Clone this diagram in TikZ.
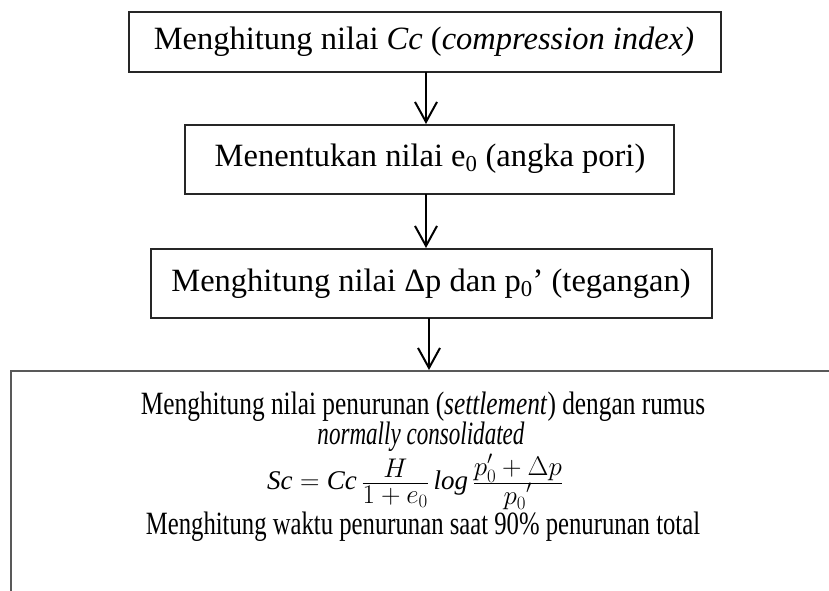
\RequirePackage{fix-cm}
\documentclass[tikz,border=0pt]{standalone}
\usepackage{fontspec}
\setmainfont{Liberation Serif}
\usetikzlibrary{arrows.meta}
\newcommand{\tightfrac}[2]{{\textstyle\frac{\displaystyle #1\rule[-5pt]{0pt}{5pt}}{\displaystyle \rule{0pt}{20.5pt}#2}}}
\begin{document}
\begin{tikzpicture}[x=1pt,y=-1pt,
  box/.style={draw=black!85,line width=1.1pt},
  txt/.style={inner sep=0pt,font=\fontsize{32.5}{36}\selectfont},
  btxt/.style={inner sep=0pt,font=\fontsize{32.5}{36}\selectfont},
  flow/.style={line width=2pt,-{Straight Barb[length=20pt,width=22pt,line width=2pt]}}]
\useasboundingbox (0,0) rectangle (829,590);
\begin{scope}
\clip (0,0) rectangle (829,590);
% boxes
\draw[box] (129,12) rectangle (721,72);
\node[txt] (t1) at (424,42) {Menghitung nilai \textit{Cc} (\textit{compression index)}};
\draw[box] (185,125) rectangle (674,194);
\node[txt] (t2) at (430,159) {Menentukan nilai e\textsubscript{0} (angka pori)};
\draw[box] (151,249) rectangle (712,318);
\node[txt] (t3) at (431,284) {Menghitung nilai Δp dan p\textsubscript{0}’ (tegangan)};
\draw[box,draw=black!65] (11,371) rectangle (840,600);
\node[btxt] (l1) at (423,407) {\scalebox{0.78}[1]{Menghitung nilai penurunan (\textit{settlement}) dengan rumus}};
\node[btxt] (l2) at (421,437) {\scalebox{0.71}[1]{\textit{normally consolidated}}};
\node[inner sep=0pt,font=\fontsize{27}{30}\selectfont] (l3) at (415,482) {$\mathit{Sc} = \mathit{Cc}\,\tightfrac{H}{1+e_0}\,\mathit{log}\,\tightfrac{p_0'+\Delta p}{{p_0}'}$};
\node[btxt] (l4) at (423,527) {\scalebox{0.76}[1]{Menghitung waktu penurunan saat 90\% penurunan total}};
% named anchors for arrows
\coordinate (a1s) at (426,72);
\coordinate (a1e) at (426,124);
\coordinate (a2s) at (426,194);
\coordinate (a2e) at (426,248);
\coordinate (a3s) at (429,318);
\coordinate (a3e) at (429,370);
\draw[flow] (a1s) -- (a1e);
\draw[flow] (a2s) -- (a2e);
\draw[flow] (a3s) -- (a3e);
\end{scope}
\end{tikzpicture}
\end{document}
